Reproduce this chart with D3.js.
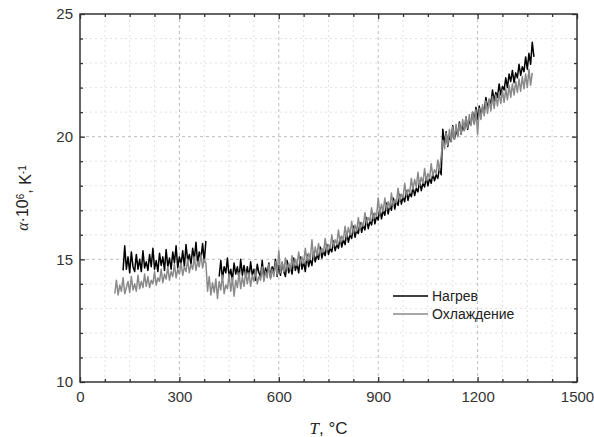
<!DOCTYPE html>
<html>
<head>
<meta charset="utf-8">
<script src="https://cdn.jsdelivr.net/npm/d3@7"></script>
<style>
  html, body { margin: 0; padding: 0; background: #fff; }
  svg { display: block; }
</style>
</head>
<body>
<svg id="chart" width="594" height="437"></svg>
<script>
// ---------------- DATA ----------------
const xTicks = [0, 300, 600, 900, 1200, 1500];
const yTicks = [10, 15, 20, 25];
const xMinor = [75, 150, 225, 375, 450, 525, 675, 750, 825, 975, 1050, 1125, 1275, 1350, 1425];
const yMinor = [11, 12, 13, 14, 16, 17, 18, 19, 21, 22, 23, 24];
const seriesNames = ["Нагрев", "Охлаждение"];

// Heating (Нагрев): T = 130, 135, ... 1370 °C (null = no data)
const heatStart = 130, heatStep = 5;
const heating = [
  /*130–200*/ 14.55,15.55,14.6,15.1,14.45,15.3,14.7,14.5,15.2,14.6,15.0,14.5,15.35,14.65,14.9,
  /*205–300*/ 14.55,15.2,14.7,15.45,14.6,14.95,14.5,15.25,14.75,15.1,14.55,15.4,14.7,15.05,14.6,15.3,14.85,15.55,14.65,15.1,
  /*305–400*/ 14.8,15.35,14.7,15.6,14.95,15.2,14.8,15.45,15.0,15.7,14.85,15.3,15.0,15.65,14.9,15.75,null,null,null,null,
  /*405–500*/ null,null,null,14.3,14.95,14.2,14.7,14.45,15.05,14.25,14.6,14.15,14.85,14.4,14.7,14.2,15.0,14.35,14.75,14.3,
  /*505–600*/ 14.7,14.25,14.9,14.35,14.6,14.15,14.8,14.45,14.3,14.95,14.2,14.65,14.4,14.85,14.25,14.7,14.5,15.0,14.3,14.75,
  /*605–700*/ 14.35,14.85,14.5,14.3,14.95,14.45,14.75,14.4,15.05,14.55,14.8,14.45,15.1,14.6,14.9,14.5,15.2,14.7,15.0,14.75,
  /*705–800*/ 15.3,14.9,15.2,15.0,15.5,15.05,15.35,15.15,15.6,15.2,15.45,15.3,15.75,15.35,15.6,15.45,15.9,15.5,15.8,15.6,
  /*805–900*/ 16.1,15.7,16.0,15.85,16.35,15.9,16.2,16.05,16.5,16.1,16.4,16.2,16.7,16.25,16.55,16.4,16.85,16.45,16.75,16.6,
  /*905–1000*/ 17.1,16.65,17.0,16.8,17.3,16.85,17.2,17.0,17.5,17.05,17.4,17.2,17.65,17.25,17.55,17.35,17.8,17.4,17.7,17.55,
  /*1005–1100*/ 17.95,17.6,17.9,17.75,18.2,17.8,18.1,17.95,18.35,18.0,18.3,18.1,18.5,18.2,18.45,18.3,18.75,18.45,20.3,19.7,
  /*1105–1200*/ 20.2,19.6,20.05,19.8,20.45,19.9,20.25,20.05,20.6,20.1,20.45,20.25,20.8,20.3,20.65,20.5,21.0,20.55,21.2,20.7,
  /*1205–1300*/ 21.25,20.85,21.2,21.0,21.6,21.15,21.5,21.35,21.9,21.45,21.8,21.6,22.15,21.7,22.05,21.9,22.4,22.0,22.55,22.25,
  /*1305–1370*/ 22.7,22.2,22.6,22.4,22.95,22.5,22.85,22.65,23.25,22.75,23.4,22.95,23.85,23.25
];

// Cooling (Охлаждение): T = 105, 110, ... 1365 °C
const coolStart = 105, coolStep = 5;
const cooling = [
  /*105–200*/ 13.6,14.15,13.55,13.95,13.7,14.25,13.6,13.85,14.1,13.65,14.3,13.75,14.0,13.7,14.35,13.8,14.1,13.85,14.4,13.9,
  /*205–300*/ 14.3,13.85,14.15,14.0,14.5,13.95,14.25,14.1,14.6,14.05,14.4,14.2,14.7,14.15,14.5,14.3,14.8,14.25,14.6,14.4,
  /*305–400*/ 14.85,14.35,14.7,14.5,15.0,14.45,14.8,14.6,15.1,14.55,14.9,14.7,15.2,14.65,15.0,14.85,13.7,14.3,13.55,14.05,
  /*405–500*/ 13.65,14.2,13.4,14.1,13.75,14.35,13.6,13.95,13.8,14.4,13.7,14.25,13.5,14.15,13.85,14.45,13.8,14.3,13.9,14.5,
  /*505–600*/ 14.0,14.45,13.9,14.35,14.1,14.6,14.0,14.3,14.15,14.7,14.1,14.5,14.25,14.8,14.2,14.6,14.3,14.9,14.35,15.35,
  /*605–700*/ 14.45,14.9,14.5,15.05,14.6,14.85,14.55,15.15,14.7,15.0,14.75,15.3,14.8,15.1,14.85,15.45,14.95,15.25,15.0,15.8,
  /*705–800*/ 15.05,15.5,15.15,15.65,15.2,15.45,15.3,15.85,15.35,15.6,15.45,16.0,15.5,15.8,15.6,16.2,15.7,15.95,15.8,16.35,
  /*805–900*/ 15.9,16.3,16.0,16.55,16.05,16.4,16.15,16.7,16.25,16.5,16.35,16.9,16.45,16.7,16.55,17.1,16.65,16.9,16.75,17.5,
  /*905–1000*/ 16.85,17.25,16.95,17.5,17.0,17.35,17.1,17.7,17.2,17.45,17.3,17.9,17.4,17.65,17.5,18.1,17.6,17.85,17.7,18.3,
  /*1005–1100*/ 17.85,18.25,17.95,18.55,18.0,18.35,18.1,18.7,18.2,18.5,18.3,18.9,18.4,18.65,18.5,19.05,18.6,19.2,19.85,19.5,
  /*1105–1200*/ 20.15,19.65,20.3,19.8,20.4,19.9,20.5,20.0,20.55,20.1,20.7,20.25,20.8,20.35,20.9,20.45,21.0,20.5,21.1,20.1,
  /*1205–1300*/ 21.15,20.7,21.3,20.85,21.45,20.95,21.55,21.05,21.65,21.15,21.7,21.25,21.8,21.35,21.9,21.4,21.95,21.5,22.1,21.6,
  /*1305–1365*/ 22.15,21.7,22.25,21.8,22.35,21.85,22.45,21.95,22.55,22.0,22.75,22.1,22.6
];

// ---------------- CHART ----------------
const svg = d3.select("#chart");
const x = d3.scaleLinear().domain([0, 1500]).range([80, 577]);
const y = d3.scaleLinear().domain([10, 25]).range([382, 14]);
const frame = "#333";
const fontSans = "Arial, 'Liberation Sans', Helvetica, sans-serif";
const fontSerif = "'Times New Roman', 'Liberation Serif', serif";

// grid
const grid = svg.append("g");
grid.selectAll(".gxm").data(xMinor).join("line")
  .attr("x1", d => x(d)).attr("x2", d => x(d)).attr("y1", y(10)).attr("y2", y(25))
  .attr("stroke", "#e2e2e2").attr("stroke-width", 1).attr("stroke-dasharray", "2,3");
grid.selectAll(".gym").data(yMinor).join("line")
  .attr("x1", x(0)).attr("x2", x(1500)).attr("y1", d => y(d)).attr("y2", d => y(d))
  .attr("stroke", "#e2e2e2").attr("stroke-width", 1).attr("stroke-dasharray", "2,3");
grid.selectAll(".gx").data(xTicks.slice(1, -1)).join("line")
  .attr("x1", d => x(d)).attr("x2", d => x(d)).attr("y1", y(10)).attr("y2", y(25))
  .attr("stroke", "#bdbdbd").attr("stroke-width", 1).attr("stroke-dasharray", "3,3");
grid.selectAll(".gy").data(yTicks.slice(1, -1)).join("line")
  .attr("x1", x(0)).attr("x2", x(1500)).attr("y1", d => y(d)).attr("y2", d => y(d))
  .attr("stroke", "#bdbdbd").attr("stroke-width", 1).attr("stroke-dasharray", "3,3");

// series
const heatPts = heating.map((v, i) => ({ t: heatStart + i * heatStep, v }));
const coolPts = cooling.map((v, i) => ({ t: coolStart + i * coolStep, v }));
const line = d3.line().defined(d => d.v != null).x(d => x(d.t)).y(d => y(d.v));

svg.append("path").datum(heatPts).attr("d", line)
  .attr("fill", "none").attr("stroke", "#000").attr("stroke-width", 1.5)
  .attr("stroke-linejoin", "round");
svg.append("path").datum(coolPts).attr("d", line)
  .attr("fill", "none").attr("stroke", "#8a8a8a").attr("stroke-width", 1.5)
  .attr("stroke-linejoin", "round");

// axes
function styleAxis(g) {
  g.select(".domain").remove();
  g.selectAll(".tick line").attr("stroke", frame).attr("stroke-width", 1.3);
  g.selectAll(".tick text").attr("fill", "#333").style("font-family", fontSans).style("font-size", "15px");
}
svg.append("g").attr("transform", `translate(0,${y(10)})`)
  .call(d3.axisBottom(x).tickValues(xTicks).tickFormat(d3.format("d")).tickSize(-5).tickPadding(9)).call(styleAxis);
svg.append("g").attr("transform", `translate(0,${y(10)})`)
  .call(d3.axisBottom(x).tickValues(xMinor).tickFormat("").tickSize(-3)).call(styleAxis);
svg.append("g").attr("transform", `translate(0,${y(25)})`)
  .call(d3.axisTop(x).tickValues(xTicks).tickFormat("").tickSize(-5)).call(styleAxis);
svg.append("g").attr("transform", `translate(0,${y(25)})`)
  .call(d3.axisTop(x).tickValues(xMinor).tickFormat("").tickSize(-3)).call(styleAxis);
svg.append("g").attr("transform", `translate(${x(0)},0)`)
  .call(d3.axisLeft(y).tickValues(yTicks).tickFormat(d3.format("d")).tickSize(-5).tickPadding(7)).call(styleAxis);
svg.append("g").attr("transform", `translate(${x(0)},0)`)
  .call(d3.axisLeft(y).tickValues(yMinor).tickFormat("").tickSize(-3)).call(styleAxis);
svg.append("g").attr("transform", `translate(${x(1500)},0)`)
  .call(d3.axisRight(y).tickValues(yTicks).tickFormat("").tickSize(-5)).call(styleAxis);
svg.append("g").attr("transform", `translate(${x(1500)},0)`)
  .call(d3.axisRight(y).tickValues(yMinor).tickFormat("").tickSize(-3)).call(styleAxis);

// frame
svg.append("rect").attr("x", x(0)).attr("y", y(25))
  .attr("width", x(1500) - x(0)).attr("height", y(10) - y(25))
  .attr("fill", "none").attr("stroke", frame).attr("stroke-width", 1.5);

// axis titles
const xt = svg.append("text").attr("x", (x(0) + x(1500)) / 2).attr("y", 434)
  .attr("text-anchor", "middle").attr("fill", "#222").style("font-size", "17px");
xt.append("tspan").text("T").style("font-family", fontSerif).style("font-style", "italic");
xt.append("tspan").text(", °C").style("font-family", fontSans);

const yt = svg.append("text")
  .attr("transform", `translate(28,${(y(10) + y(25)) / 2}) rotate(-90)`)
  .attr("text-anchor", "middle").attr("fill", "#222").style("font-size", "16px").style("font-family", fontSans);
yt.append("tspan").text("α").style("font-family", fontSerif).style("font-style", "italic");
yt.append("tspan").text("·10");
yt.append("tspan").text("6").attr("dy", "-0.45em").style("font-size", "10px");
yt.append("tspan").text(", K").attr("dy", "0.45em");
yt.append("tspan").text("-1").attr("dy", "-0.45em").style("font-size", "10px");

// legend
const legend = svg.append("g");
const legendColors = ["#000", "#8a8a8a"];
seriesNames.forEach((name, i) => {
  const ly = 296 + i * 18;
  legend.append("line").attr("x1", 393).attr("x2", 428).attr("y1", ly).attr("y2", ly)
    .attr("stroke", legendColors[i]).attr("stroke-width", 1.3);
  legend.append("text").attr("x", 432).attr("y", ly).attr("dy", "0.35em")
    .attr("fill", "#222").style("font-family", fontSans).style("font-size", "14px").text(name);
});
</script>
</body>
</html>
